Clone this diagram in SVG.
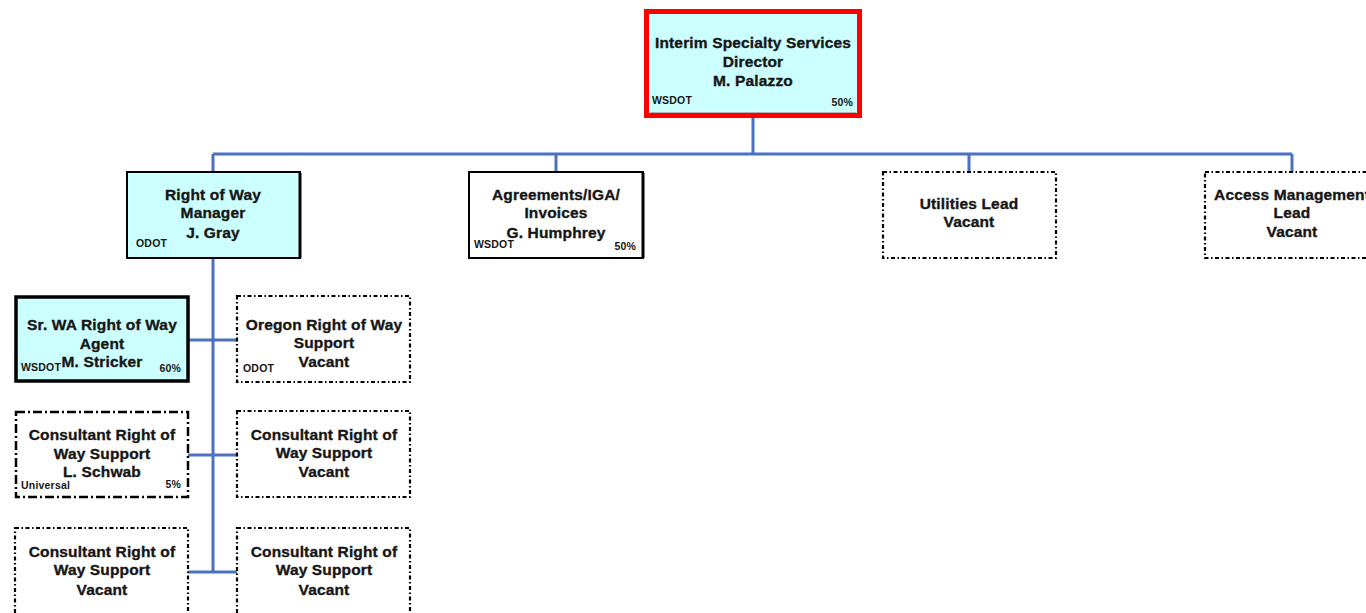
<svg xmlns="http://www.w3.org/2000/svg" width="1366" height="613" viewBox="0 0 1366 613">
  <style>
    .t { font-family: "Liberation Sans", Arial, sans-serif; font-weight: bold; font-size: 15.5px; letter-spacing: 0.15px; fill: #161616; stroke: #161616; stroke-width: 0.35; text-anchor: middle; }
    .s { font-family: "Liberation Sans", Arial, sans-serif; font-weight: bold; font-size: 10.5px; letter-spacing: 0.2px; fill: #161616; }
    .r { text-anchor: end; }
    .fill { fill: #ccffff; }
    .solid { stroke: #000; stroke-width: 2; }
    .heavy { stroke: #000; stroke-width: 3.5; }
    .dot { fill: #fff; stroke: #000; stroke-width: 2.2; stroke-dasharray: 4 2.5 1.5 2.5; }
    .dashdot { fill: #fff; stroke: #000; stroke-width: 2.5; stroke-dasharray: 9 3 2 3; }
    .conn { fill: none; stroke: #4a72c0; stroke-width: 3; }
  </style>

  <g id="connectors">
    <path class="conn" d="M753 118 V154 M213 154 H1292 M213 154 V172 M556 154 V172 M969 154 V172 M1292 154 V172"/>
    <path class="conn" d="M213 258 V572 M188 340 H238 M188 455 H238 M188 572 H238"/>
  </g>

  <g id="director">
    <rect x="646.5" y="11.5" width="213" height="104" class="fill" stroke="#ff0000" stroke-width="5"/>
    <line x1="650" y1="112.5" x2="856" y2="112.5" stroke="#b0b0b0" stroke-width="1"/>
    <text class="t" x="753" y="48">Interim Specialty Services</text>
    <text class="t" x="753" y="67">Director</text>
    <text class="t" x="753" y="86">M. Palazzo</text>
    <text class="s" x="652" y="104">WSDOT</text>
    <text class="s r" x="853" y="106">50%</text>
  </g>

  <g id="row-manager">
    <rect x="127" y="172" width="173" height="86" class="fill solid"/>
    <line x1="300" y1="173" x2="300" y2="258" stroke="#000" stroke-width="3"/>
    <text class="t" x="213" y="200">Right of Way</text>
    <text class="t" x="213" y="218">Manager</text>
    <text class="t" x="213" y="238">J. Gray</text>
    <text class="s" x="136" y="247">ODOT</text>
  </g>

  <g id="agreements">
    <rect x="469" y="172" width="174" height="86" fill="#fff" class="solid"/>
    <line x1="643" y1="173" x2="643" y2="258" stroke="#000" stroke-width="3"/>
    <text class="t" x="556" y="200">Agreements/IGA/</text>
    <text class="t" x="556" y="218">Invoices</text>
    <text class="t" x="556" y="238">G. Humphrey</text>
    <text class="s" x="474" y="248">WSDOT</text>
    <text class="s r" x="636" y="250">50%</text>
  </g>

  <g id="utilities-lead">
    <rect x="883" y="172" width="173" height="86" class="dot"/>
    <text class="t" x="969" y="209">Utilities Lead</text>
    <text class="t" x="969" y="227">Vacant</text>
  </g>

  <g id="access-management-lead">
    <rect x="1205" y="172" width="174" height="86" class="dot"/>
    <text class="t" x="1292" y="200">Access Management</text>
    <text class="t" x="1292" y="218">Lead</text>
    <text class="t" x="1292" y="237">Vacant</text>
  </g>

  <g id="sr-wa-agent">
    <rect x="16" y="297" width="172" height="84" class="fill heavy"/>
    <text class="t" x="102" y="330">Sr. WA Right of Way</text>
    <text class="t" x="102" y="349">Agent</text>
    <text class="t" x="102" y="367">M. Stricker</text>
    <text class="s" x="21" y="371">WSDOT</text>
    <text class="s r" x="181" y="372">60%</text>
  </g>

  <g id="oregon-support">
    <rect x="237" y="296" width="173" height="86" class="dot"/>
    <text class="t" x="324" y="330">Oregon Right of Way</text>
    <text class="t" x="324" y="348">Support</text>
    <text class="t" x="324" y="367">Vacant</text>
    <text class="s" x="243" y="372">ODOT</text>
  </g>

  <g id="consultant-schwab">
    <rect x="16" y="412" width="172" height="85" class="dashdot"/>
    <text class="t" x="102" y="440">Consultant Right of</text>
    <text class="t" x="102" y="459">Way Support</text>
    <text class="t" x="102" y="477">L. Schwab</text>
    <text class="s" x="21" y="489">Universal</text>
    <text class="s r" x="181" y="488">5%</text>
  </g>

  <g id="consultant-vacant-1">
    <rect x="237" y="411" width="173" height="86" class="dot"/>
    <text class="t" x="324" y="440">Consultant Right of</text>
    <text class="t" x="324" y="458">Way Support</text>
    <text class="t" x="324" y="477">Vacant</text>
  </g>

  <g id="consultant-vacant-2">
    <rect x="15" y="528" width="173" height="90" class="dot"/>
    <text class="t" x="102" y="557">Consultant Right of</text>
    <text class="t" x="102" y="575">Way Support</text>
    <text class="t" x="102" y="595">Vacant</text>
  </g>

  <g id="consultant-vacant-3">
    <rect x="237" y="528" width="173" height="90" class="dot"/>
    <text class="t" x="324" y="557">Consultant Right of</text>
    <text class="t" x="324" y="575">Way Support</text>
    <text class="t" x="324" y="595">Vacant</text>
  </g>
</svg>
